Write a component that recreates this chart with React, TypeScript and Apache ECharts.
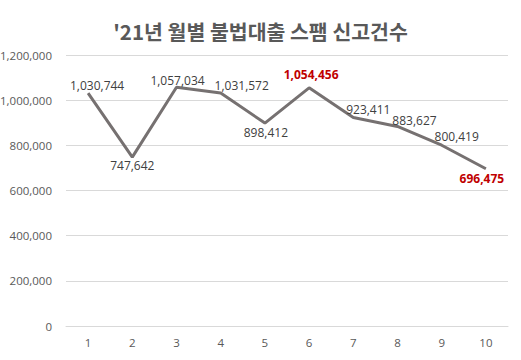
import React, { useEffect, useRef } from "react";
import * as echarts from "echarts";

const categories = ["1", "2", "3", "4", "5", "6", "7", "8", "9", "10"];
const values = [1030744, 747642, 1057034, 1031572, 898412, 1054456, 923411, 883627, 800419, 696475];
const highlighted = [false, false, false, false, false, true, false, false, false, true];
const labelOffsets: [number, number][] = [
  [9, -8], [0, 8], [1, -7], [21, -8], [1, 9], [2, -13], [15, -8], [17, -6], [15, -9], [-4, 10],
];
const yTicks = { min: 0, max: 1200000, interval: 200000 };
const title = "'21년 월별 불법대출 스팸 신고건수";

const fmt = (v: number) => v.toLocaleString("en-US");

export default function App() {
  const ref = useRef<HTMLDivElement>(null);
  useEffect(() => {
    if (!ref.current) return;
    const chart = echarts.init(ref.current, null, { renderer: "svg" });
    const font = "'Open Sans', 'Noto Sans', sans-serif";
    const titleFont = "'Noto Sans CJK KR', sans-serif";
    chart.setOption({
      animation: false,
      textStyle: { fontFamily: font },
      title: {
        text: title,
        left: "center",
        top: 16,
        textStyle: { fontSize: 20.5, fontWeight: "bold", color: "#595959", fontFamily: titleFont },
      },
      grid: { left: 66, right: 13, top: 55, bottom: 34, containLabel: false, outerBoundsMode: "none" },
      xAxis: {
        type: "category",
        data: categories,
        boundaryGap: true,
        axisLine: { lineStyle: { color: "#d9d9d9", width: 1 } },
        axisTick: { show: false },
        axisLabel: { color: "#595959", fontSize: 11.5, margin: 10, fontFamily: font },
      },
      yAxis: {
        type: "value",
        min: yTicks.min,
        max: yTicks.max,
        interval: yTicks.interval,
        axisLine: { show: false },
        axisTick: { show: false },
        splitLine: { lineStyle: { color: "#d9d9d9", width: 1 } },
        axisLabel: { color: "#595959", fontSize: 11.5, margin: 14, formatter: (v: number) => fmt(v), fontFamily: font },
      },
      series: [
        {
          type: "line",
          data: values.map((v, i) => ({
            value: v,
            label: {
              show: true,
              position: "inside",
              offset: labelOffsets[i],
              formatter: fmt(v),
              fontSize: 12,
              fontFamily: font,
              color: highlighted[i] ? "#c00000" : "#404040",
              fontWeight: highlighted[i] ? "bold" : "normal",
            },
          })),
          symbol: "circle",
          symbolSize: 1,
          itemStyle: { color: "rgba(0,0,0,0)" },
          lineStyle: { color: "#767171", width: 3 },
        },
      ],
    });
    return () => chart.dispose();
  }, []);
  return <div ref={ref} style={{ width: 521, height: 360, position: "absolute", left: 0, top: 0 }} />;
}
